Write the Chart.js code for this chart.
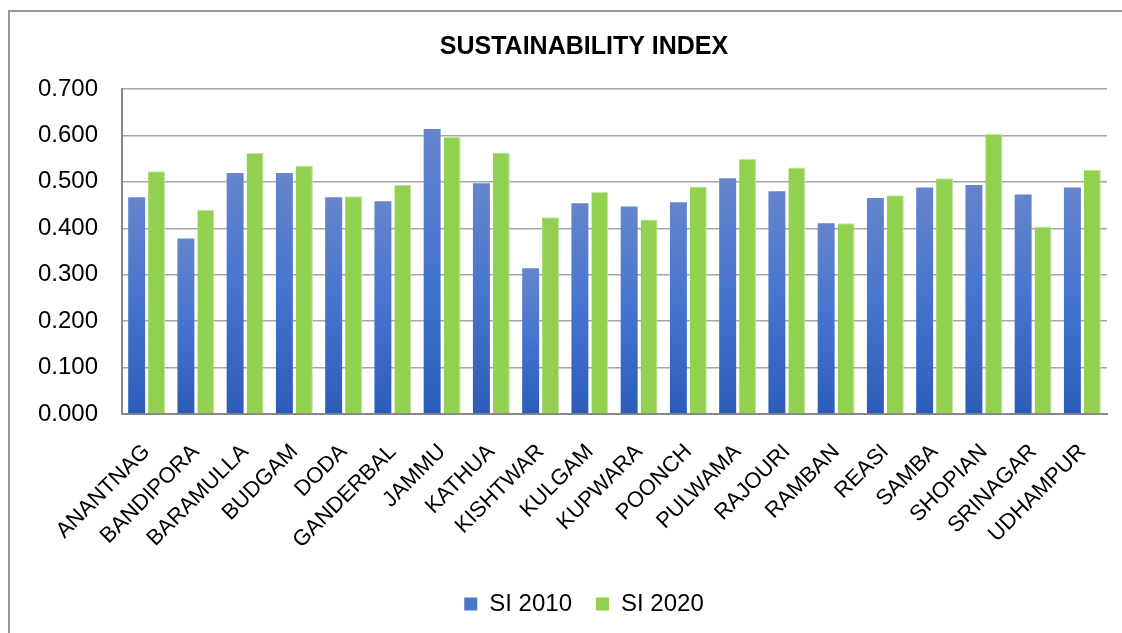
<!DOCTYPE html>
<html>
<head>
<meta charset="utf-8">
<script src="https://cdn.jsdelivr.net/npm/chart.js@4"></script>
<style>
  html, body { margin: 0; padding: 0; background: #fff; overflow: hidden; }
  #frame { position: absolute; left: 8px; top: 10px; width: 1200px; height: 700px; border: 2px solid #969696; }
  #wrap { position: absolute; left: 0; top: 0; width: 1122px; height: 633px; }
</style>
</head>
<body>
<div id="frame"></div>
<div id="wrap"><canvas id="chart"></canvas></div>
<script>
var districts = ['ANANTNAG', 'BANDIPORA', 'BARAMULLA', 'BUDGAM', 'DODA', 'GANDERBAL', 'JAMMU', 'KATHUA',
    'KISHTWAR', 'KULGAM', 'KUPWARA', 'POONCH', 'PULWAMA', 'RAJOURI', 'RAMBAN', 'REASI', 'SAMBA',
    'SHOPIAN', 'SRINAGAR', 'UDHAMPUR'];
var si2010 = [0.467, 0.378, 0.519, 0.519, 0.467, 0.458, 0.614, 0.497, 0.314, 0.454,
    0.447, 0.456, 0.508, 0.480, 0.411, 0.465, 0.488, 0.493, 0.473, 0.488];
var si2020 = [0.523, 0.440, 0.562, 0.535, 0.469, 0.494, 0.597, 0.563, 0.424, 0.478,
    0.419, 0.490, 0.549, 0.531, 0.411, 0.471, 0.508, 0.603, 0.404, 0.526];
var yTicks = [0, 0.1, 0.2, 0.3, 0.4, 0.5, 0.6, 0.7];

var font = 'Liberation Sans, Arial, sans-serif';

// each blue bar gets its own top-to-bottom gradient
function blueFill(context) {
    var chart = context.chart;
    var y = chart.scales.y;
    if (!chart.chartArea || !y || context.raw === undefined) {
        return '#4472c4';
    }
    var top = y.getPixelForValue(context.raw);
    var bottom = y.getPixelForValue(0);
    var g = chart.ctx.createLinearGradient(0, top, 0, bottom);
    g.addColorStop(0, '#6585cc');
    g.addColorStop(0.5, '#4574cf');
    g.addColorStop(1, '#2c5cb9');
    return g;
}

var ctx = document.getElementById('chart').getContext('2d');
var chart = new Chart(ctx, {
    type: 'bar',
    data: {
        labels: districts,
        datasets: [{
            label: 'SI 2010',
            data: si2010,
            backgroundColor: blueFill,
            borderWidth: 0,
            categoryPercentage: 0.81,
            barPercentage: 0.85
        }, {
            label: 'SI 2020',
            data: si2020,
            backgroundColor: '#92d050',
            borderColor: '#c2e5a0',
            borderWidth: { top: 1, right: 1, left: 0, bottom: 0 },
            categoryPercentage: 0.81,
            barPercentage: 0.85
        }]
    },
    options: {
        responsive: true,
        maintainAspectRatio: false,
        animation: false,
        // negative right padding shifts title/legend centre to the right,
        // the x scale's own right padding keeps the plot edge at 1107
        layout: { padding: { left: 20, right: -26, top: 10, bottom: 7 } },
        plugins: {
            title: {
                display: true,
                text: 'SUSTAINABILITY INDEX',
                color: '#000',
                font: { family: font, size: 25, weight: 'bold' },
                padding: { top: 22, bottom: 27 }
            },
            legend: {
                position: 'bottom',
                labels: {
                    color: '#000',
                    font: { family: font, size: 24 },
                    boxWidth: 13,
                    boxHeight: 13,
                    padding: 24,
                    generateLabels: function (c) {
                        var items = Chart.defaults.plugins.legend.labels.generateLabels(c);
                        items[0].fillStyle = '#4a75c8';
                        items[0].strokeStyle = '#4a75c8';
                        items[1].fillStyle = '#92d050';
                        items[1].strokeStyle = '#92d050';
                        items.forEach(function (it) { it.lineWidth = 0; });
                        return items;
                    }
                }
            },
            tooltip: { enabled: false }
        },
        scales: {
            x: {
                grid: { display: false, drawTicks: false },
                border: { display: true, color: '#878787', width: 2 },
                ticks: {
                    color: '#000',
                    font: { family: font, size: 22 },
                    minRotation: 45,
                    maxRotation: 45,
                    autoSkip: false,
                    padding: 25
                },
                afterFit: function (scale) {
                    scale.height = 154;
                    scale.paddingLeft = 0;
                    scale.paddingRight = 15;
                }
            },
            y: {
                min: 0,
                max: 0.7,
                afterBuildTicks: function (scale) {
                    scale.ticks = yTicks.map(function (v) { return { value: v }; });
                },
                grid: { color: '#a6a6a6', lineWidth: 1.5, drawTicks: false },
                border: { display: true, color: '#878787', width: 2 },
                ticks: {
                    color: '#000',
                    font: { family: font, size: 24 },
                    padding: 24,
                    callback: function (v) { return Number(v).toFixed(3); }
                },
                afterFit: function (scale) { scale.width = 102; }
            }
        }
    }
});
</script>
</body>
</html>
